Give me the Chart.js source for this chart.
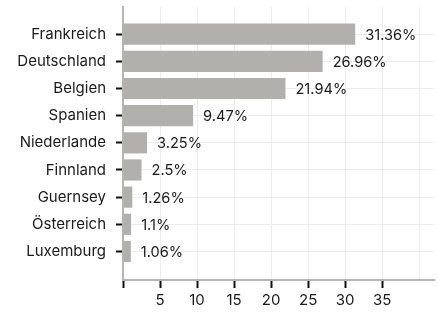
<!DOCTYPE html>
<html>
<head>
<meta charset="utf-8">
<script src="https://cdn.jsdelivr.net/npm/chart.js@4"></script>
<style>
  html, body { margin: 0; padding: 0; background: #fff; }
  #wrap { width: 438px; height: 314px; }
</style>
</head>
<body>
<div id="wrap"><canvas id="laender-chart"></canvas></div>
<script>
var categories = ['Frankreich', 'Deutschland', 'Belgien', 'Spanien', 'Niederlande', 'Finnland', 'Guernsey', 'Österreich', 'Luxemburg'];
var shares = [31.36, 26.96, 21.94, 9.47, 3.25, 2.5, 1.26, 1.1, 1.06];
var shareLabels = ['31.36%', '26.96%', '21.94%', '9.47%', '3.25%', '2.5%', '1.26%', '1.1%', '1.06%'];
var xTicks = [5, 10, 15, 20, 25, 30, 35];

Chart.defaults.font.family = 'Inter';
Chart.defaults.font.size = 15;
Chart.defaults.color = '#1a1a1a';

var points = shares.map(function (v, i) { return { x: v, y: i }; });

var valueLabels = {
    id: 'valueLabels',
    afterDatasetsDraw: function (chart) {
        var ctx = chart.ctx;
        var meta = chart.getDatasetMeta(0);
        ctx.save();
        ctx.font = '14.6px Inter';
        ctx.fillStyle = '#1a1a1a';
        ctx.textBaseline = 'middle';
        ctx.textAlign = 'left';
        meta.data.forEach(function (bar, i) {
            ctx.fillText(shareLabels[i], bar.x + 10, bar.y + 1);
        });
        ctx.restore();
    }
};

var ctx = document.getElementById('laender-chart').getContext('2d');
var myChart = new Chart(ctx, {
    type: 'bar',
    data: {
        datasets: [{
            data: points,
            backgroundColor: '#b1b0ac',
            borderWidth: 0,
            barPercentage: 0.78,
            categoryPercentage: 1
        }]
    },
    options: {
        indexAxis: 'y',
        responsive: true,
        maintainAspectRatio: false,
        animation: false,
        layout: { padding: { top: 7, right: 4, bottom: 0, left: 0 } },
        plugins: {
            legend: { display: false },
            tooltip: { enabled: false }
        },
        scales: {
            y: {
                type: 'linear',
                reverse: true,
                offset: false,
                min: -1,
                max: 9.05,
                afterBuildTicks: function (axis) {
                    axis.ticks = categories.map(function (c, i) { return { value: i }; });
                },
                afterFit: function (axis) {
                    axis.width = 123;
                    axis.paddingTop = 0;
                    axis.paddingBottom = 0;
                },
                ticks: {
                    padding: 10,
                    color: '#1a1a1a',
                    callback: function (v) { return categories[v]; }
                },
                grid: {
                    offset: false,
                    color: '#ececec',
                    tickColor: '#111',
                    tickLength: 7,
                    tickWidth: 2
                },
                border: { color: '#b5b5b2', width: 2 }
            },
            x: {
                min: 0,
                max: 42,
                afterBuildTicks: function (axis) {
                    axis.ticks = [0].concat(xTicks, [40]).map(function (v) { return { value: v }; });
                },
                afterFit: function (axis) {
                    axis.height = 34;
                    axis.paddingLeft = 0;
                    axis.paddingRight = 0;
                },
                ticks: {
                    padding: 3,
                    color: '#1a1a1a',
                    maxRotation: 0,
                    callback: function (v) { return xTicks.indexOf(v) >= 0 ? String(v) : ''; }
                },
                grid: {
                    color: '#ececec',
                    tickLength: 8,
                    tickWidth: 2,
                    tickColor: function (c) { return c.tick && c.tick.value === 40 ? 'rgba(0,0,0,0)' : '#111'; }
                },
                border: { color: '#b5b5b2', width: 2 }
            }
        }
    },
    plugins: [valueLabels]
});
</script>
</body>
</html>
